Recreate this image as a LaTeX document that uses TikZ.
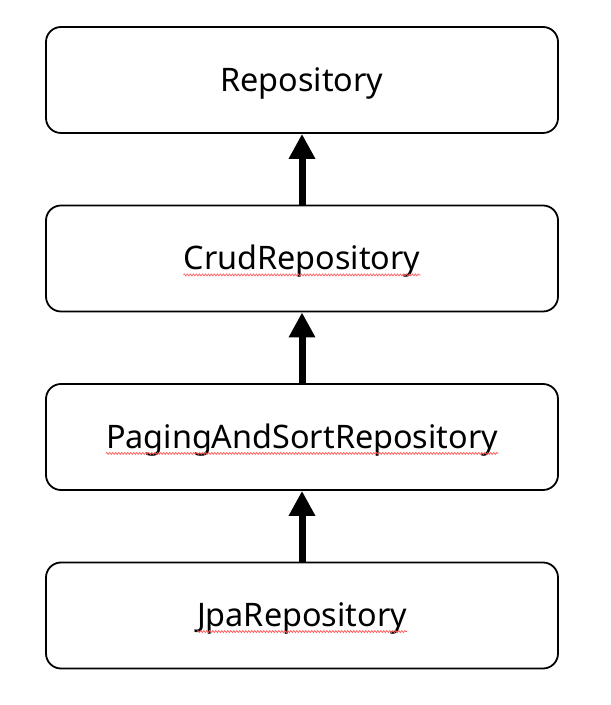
\documentclass[tikz,border=0pt]{standalone}
\usepackage{fontspec}
\setmainfont{Noto Sans}
\usetikzlibrary{arrows.meta,decorations.pathmorphing}
\tikzset{
  box/.style={draw=black, line width=1.8bp, rounded corners=15bp, minimum width=512bp, minimum height=106bp, inner sep=0pt, fill=white},
  lbl/.style={inner sep=0pt, font=\fontsize{32.5}{36}\selectfont, text=black, yshift=-3bp},
  inherit/.style={line width=7bp, -{Triangle[width=25bp,length=25bp]}},
  squiggle/.style={red!65, line width=0.7bp, decorate, decoration={snake, amplitude=1bp, segment length=3bp}}
}
\begin{document}
\begin{tikzpicture}[x=1bp,y=1bp]
\useasboundingbox (0,0) rectangle (611,705);
\node[box] (b1) at (302,625) {};
\node[box] (b2) at (302,446.5) {};
\node[box] (b3) at (302,268) {};
\node[box] (b4) at (302,89.5) {};
\node[lbl] (t1) at (b1) {Repository};
\node[lbl] (t2) at (b2) {CrudRepository};
\node[lbl] (t3) at (b3) {PagingAndSortRepository};
\node[lbl] (t4) at (b4) {JpaRepository};
\draw[squiggle] ([yshift=-5bp]t2.base west) -- ([yshift=-5bp]t2.base east);
\draw[squiggle] ([yshift=-5bp]t3.base west) -- ([yshift=-5bp]t3.base east);
\draw[squiggle] ([yshift=-5bp]t4.base west) -- ([yshift=-5bp]t4.base east);
\draw[inherit] (b2.north) -- (b1.south);
\draw[inherit] (b3.north) -- (b2.south);
\draw[inherit] (b4.north) -- (b3.south);
\end{tikzpicture}
\end{document}
